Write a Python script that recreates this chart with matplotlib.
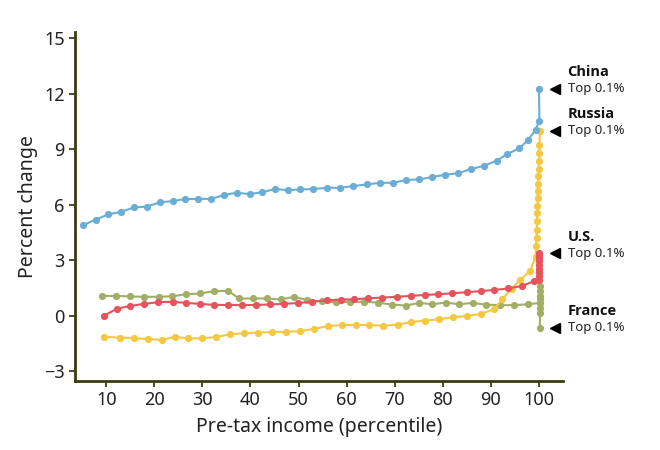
import matplotlib
matplotlib.use('Agg')
import matplotlib.pyplot as plt

plt.rcParams['font.family'] = ['Noto Sans', 'DejaVu Sans']

# China (blue)
china_x = [5.2, 7.8, 10.4, 13.1, 15.8, 18.4, 21.1, 23.8, 26.4, 29.1, 31.8, 34.4, 37.1, 39.8,
           42.4, 45.1, 47.8, 50.4, 53.1, 55.9, 58.6, 61.4, 64.2, 67.0, 69.7, 72.4, 75.1, 77.8,
           80.5, 83.2, 85.9, 88.6, 91.2, 93.4, 95.9, 97.8, 99.3, 100.1, 100.0]
china_y = [4.9, 5.2, 5.48, 5.62, 5.86, 5.9, 6.13, 6.2, 6.31, 6.32, 6.32, 6.52, 6.65, 6.58,
           6.68, 6.85, 6.79, 6.83, 6.85, 6.92, 6.92, 7.01, 7.10, 7.19, 7.19, 7.34, 7.37, 7.50,
           7.62, 7.71, 7.93, 8.11, 8.38, 8.74, 9.05, 9.51, 10.05, 10.55, 12.27]

# U.S. (red)
us_x = [9.5, 12.2, 15.0, 17.9, 20.8, 23.8, 26.6, 29.6, 32.5, 35.4, 38.3, 41.2, 44.1, 47.0,
        49.9, 52.9, 55.9, 58.8, 61.6, 64.5, 67.4, 70.4, 73.3, 76.2, 79.1, 82.0, 85.0, 87.9,
        90.7, 93.6, 96.5, 99.0, 100.1, 100.1, 100.1, 100.1, 100.1, 100.1, 100.1, 100.1, 100.1]
us_y = [0.0, 0.39, 0.54, 0.65, 0.74, 0.76, 0.70, 0.65, 0.59, 0.59, 0.58, 0.59, 0.62, 0.65,
        0.70, 0.76, 0.84, 0.88, 0.90, 0.95, 0.99, 1.03, 1.08, 1.13, 1.17, 1.22, 1.28, 1.34,
        1.40, 1.48, 1.62, 1.88, 1.95, 2.15, 2.35, 2.55, 2.75, 2.95, 3.1, 3.25, 3.37]

# Russia (yellow)
russia_x = [9.5, 12.8, 15.7, 18.6, 21.5, 24.3, 27.1, 30.0, 32.8, 35.7, 38.6, 41.5, 44.4, 47.4,
            50.3, 53.2, 56.1, 59.0, 61.9, 64.7, 67.6, 70.6, 73.4, 76.3, 79.2, 82.1, 85.0, 87.9,
            90.7, 92.4, 94.3, 96.1, 98.2, 99.3, 99.4, 99.5, 99.55, 99.6, 99.65, 99.7, 99.75,
            99.8, 99.85, 99.9, 99.95, 100.0, 100.05, 100.1, 100.2]
russia_y = [-1.13, -1.17, -1.2, -1.25, -1.3, -1.13, -1.22, -1.21, -1.14, -1.0, -0.94, -0.9,
            -0.88, -0.86, -0.83, -0.7, -0.55, -0.5, -0.49, -0.49, -0.53, -0.47, -0.33, -0.25,
            -0.18, -0.08, 0.0, 0.11, 0.36, 0.9, 1.47, 1.93, 2.45, 3.19, 3.75, 4.2, 4.65, 5.1,
            5.55, 5.95, 6.35, 6.75, 7.15, 7.55, 7.95, 8.35, 8.8, 9.25, 10.0]

# France (green)
france_x = [9.1, 12.1, 15.0, 17.9, 20.9, 23.7, 26.6, 29.5, 32.5, 35.4, 37.6, 40.5, 43.4, 46.3,
            49.1, 51.8, 54.8, 57.8, 60.7, 63.6, 66.5, 69.4, 72.3, 75.1, 77.8, 80.6, 83.4, 86.2,
            88.9, 91.9, 94.8, 97.7, 100.2, 100.2, 100.2, 100.2, 100.2, 100.2, 100.2, 100.2]
france_y = [1.08, 1.08, 1.05, 1.03, 1.03, 1.06, 1.17, 1.21, 1.34, 1.35, 0.94, 0.94, 0.94, 0.89,
            1.03, 0.85, 0.79, 0.74, 0.76, 0.76, 0.72, 0.61, 0.56, 0.70, 0.63, 0.72, 0.63, 0.70,
            0.61, 0.58, 0.58, 0.63, 0.70, 1.62, 1.35, 1.08, 0.89, 0.40, 0.13, -0.63]

names = ['China', 'Russia', 'U.S.', 'France']
top_values = [12.27, 10.0, 3.37, -0.63]

blue = '#6aaed6'
red = '#e6535c'
yellow = '#f5c842'
green = '#a2ae66'
axis_color = '#3b3b12'

fig = plt.figure(figsize=(6.6, 4.5), dpi=100)
ax = fig.add_axes([0.1136, 0.154, 0.7394, 0.7756])

mk = dict(marker='o', markersize=5.2, markeredgewidth=0, linewidth=1.5)
ax.plot(france_x, france_y, color=green, **mk)
ax.plot(russia_x, russia_y, color=yellow, **mk)
ax.plot(us_x, us_y, color=red, **mk)
ax.plot(china_x, china_y, color=blue, **mk)

for name, val in zip(names, top_values):
    ax.plot([103.3], [val], marker='<', color='black', markersize=6.5, clip_on=False)
    ax.text(106.0, val, 'Top 0.1%', fontsize=9.5, va='center', ha='left', color='#222222')
    ax.text(105.9, val + 0.9, name, fontsize=10.5, fontweight='bold', va='center',
            ha='left', color='#111111', family=['Open Sans', 'DejaVu Sans'])

ax.set_xlim(3.5, 105)
ax.set_ylim(-3.5, 15.35)
ax.set_xticks([10, 20, 30, 40, 50, 60, 70, 80, 90, 100])
ax.set_yticks([-3, 0, 3, 6, 9, 12, 15])

for s in ['top', 'right']:
    ax.spines[s].set_visible(False)
for s in ['left', 'bottom']:
    ax.spines[s].set_color(axis_color)
    ax.spines[s].set_linewidth(2.0)
ax.tick_params(axis='both', colors=axis_color, width=1.3, length=4, labelsize=13,
               labelcolor='#222222')

ax.set_xlabel('Pre-tax income (percentile)', fontsize=14, color='#222222', labelpad=6)
ax.set_ylabel('Percent change', fontsize=14, color='#222222', labelpad=4)

fig.savefig('out.png', dpi=100)
